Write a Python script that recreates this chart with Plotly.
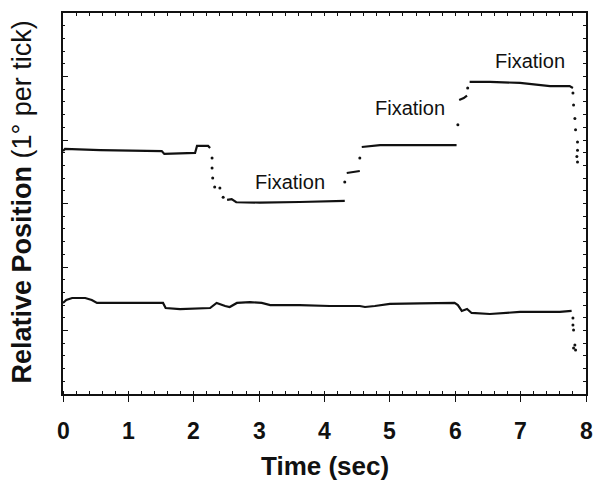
import plotly.graph_objects as go

# ---- data (time in sec, relative position in degrees) ----
# upper trace: fixation segments (None breaks the line)
upper_t = [0.00, 0.03, 0.57, 1.02, 1.51, 1.55, 1.94, 2.02, 2.05, 2.22, 2.25, None,
           2.51, 2.58, 2.65, 3.01, 3.62, 4.31, None,
           4.34, 4.54, None,
           4.57, 4.85, 5.15, 5.61, 6.02, None,
           6.06, 6.13, 6.18, None,
           6.22, 6.53, 6.99, 7.45, 7.75, 7.80]
upper_v = [19.13, 19.30, 19.20, 19.17, 19.13, 18.90, 18.94, 18.98, 19.53, 19.53, 19.37, None,
           15.28, 15.35, 15.10, 15.07, 15.12, 15.20, None,
           17.40, 17.56, None,
           19.45, 19.60, 19.60, 19.57, 19.60, None,
           23.15, 23.30, 23.50, None,
           24.57, 24.57, 24.50, 24.25, 24.25, 24.10]
# upper trace: saccade samples (dots)
upper_sac_t = [2.28, 2.28, 2.29, 2.32, 2.40, 2.45, 4.31, 4.54, 6.04, 6.19,
               7.80, 7.81, 7.83, 7.84, 7.87, 7.87, 7.86, 7.87]
upper_sac_v = [18.58, 17.80, 17.00, 16.30, 16.22, 15.50, 16.70, 18.58, 21.20, 24.10,
               23.70, 22.75, 21.70, 20.80, 19.84, 19.20, 18.70, 18.27]

# lower trace
lower_t = [0.00, 0.05, 0.14, 0.34, 0.44, 0.52, 1.02, 1.53, 1.57, 1.79, 2.25, 2.35,
           2.48, 2.55, 2.66, 2.86, 3.04, 3.17, 3.62, 4.08, 4.54, 4.62, 4.77, 5.00,
           5.46, 5.99, 6.04, 6.10, 6.18, 6.25, 6.53, 6.99, 7.60, 7.78]
lower_v = [7.17, 7.40, 7.56, 7.56, 7.40, 7.17, 7.17, 7.17, 6.77, 6.69, 6.77, 7.17,
           6.93, 6.85, 7.17, 7.24, 7.17, 7.00, 7.00, 6.93, 6.93, 6.85, 6.93, 7.09,
           7.13, 7.17, 7.00, 6.54, 6.69, 6.38, 6.30, 6.46, 6.46, 6.54]
lower_sac_t = [7.80, 7.80, 7.81, 7.83, 7.84, 7.81]
lower_sac_v = [5.98, 5.43, 5.04, 3.86, 3.46, 3.62]

# annotations
fix_t = [3.47, 5.31, 7.14]
fix_v = [16.7, 22.5, 26.2]
fix_text = ["Fixation", "Fixation", "Fixation"]

x_ticks = [0, 1, 2, 3, 4, 5, 6, 7, 8]

INK = "#111111"
SANS = "Liberation Sans, Arial, sans-serif"

fig = go.Figure()
fig.add_trace(go.Scatter(x=upper_t, y=upper_v, mode="lines",
                         line=dict(color=INK, width=2.2), connectgaps=False,
                         hoverinfo="skip", showlegend=False))
fig.add_trace(go.Scatter(x=upper_sac_t, y=upper_sac_v, mode="markers",
                         marker=dict(color=INK, size=3), hoverinfo="skip", showlegend=False))
fig.add_trace(go.Scatter(x=lower_t, y=lower_v, mode="lines",
                         line=dict(color=INK, width=2.2), hoverinfo="skip", showlegend=False))
fig.add_trace(go.Scatter(x=lower_sac_t, y=lower_sac_v, mode="markers",
                         marker=dict(color=INK, size=3), hoverinfo="skip", showlegend=False))
# invisible trace to activate top/right tick axes
fig.add_trace(go.Scatter(x=[0], y=[0], xaxis="x2", yaxis="y2", mode="markers",
                         marker=dict(opacity=0), hoverinfo="skip", showlegend=False))

for t, v, s in zip(fix_t, fix_v, fix_text):
    fig.add_annotation(x=t, y=v, text=s, showarrow=False,
                       font=dict(family=SANS, size=20, color=INK))

# x tick labels drawn as annotations at the axis values (avoids margin pushing)
for t in x_ticks:
    fig.add_annotation(x=t, y=0, xref="x", yref="paper", text="<b>%d</b>" % t,
                       showarrow=False, xanchor="center", yanchor="top", yshift=-22,
                       font=dict(family=SANS, size=23, color=INK))

fig.add_annotation(xref="paper", yref="paper", x=-0.078, y=0.503, textangle=-90,
                   text="<b>Relative Position</b> (1° per tick)", showarrow=False,
                   xanchor="center", yanchor="middle",
                   font=dict(family=SANS, size=27, color=INK))
fig.add_annotation(xref="paper", yref="paper", x=0.5, y=-0.189,
                   text="<b>Time (sec)</b>", showarrow=False,
                   xanchor="center", yanchor="middle",
                   font=dict(family=SANS, size=26, color=INK))

fig.update_layout(
    width=593, height=486,
    margin=dict(l=63, r=7, t=13, b=92),
    paper_bgcolor="white", plot_bgcolor="white",
    xaxis=dict(range=[0, 8], tickvals=x_ticks, showticklabels=False, automargin=False,
               ticks="outside", ticklen=6, tickwidth=1.3, tickcolor=INK,
               showline=True, linecolor=INK, linewidth=1.6, showgrid=False, zeroline=False,
               minor=dict(dtick=0.2, ticks="inside", ticklen=3, tickcolor=INK, tickwidth=1.2,
                          showgrid=False)),
    yaxis=dict(range=[0, 30], dtick=5, ticks="inside", ticklen=5, tickwidth=1.3, tickcolor=INK,
               showticklabels=False, showline=True, linecolor=INK, linewidth=1.6,
               showgrid=False, zeroline=False,
               minor=dict(dtick=1, ticks="inside", ticklen=2.5, tickcolor=INK, tickwidth=1.2,
                          showgrid=False)),
    xaxis2=dict(range=[0, 8], overlaying="x", side="top", dtick=0.2, ticks="inside",
                ticklen=3, tickwidth=1.2, tickcolor=INK, showticklabels=False,
                showline=True, linecolor=INK, linewidth=1.6, showgrid=False, zeroline=False),
    yaxis2=dict(range=[0, 30], overlaying="y", side="right", dtick=1, ticks="inside",
                ticklen=3, tickwidth=1.2, tickcolor=INK, showticklabels=False,
                showline=True, linecolor=INK, linewidth=1.6, showgrid=False, zeroline=False),
)

fig.write_html("out.html")
